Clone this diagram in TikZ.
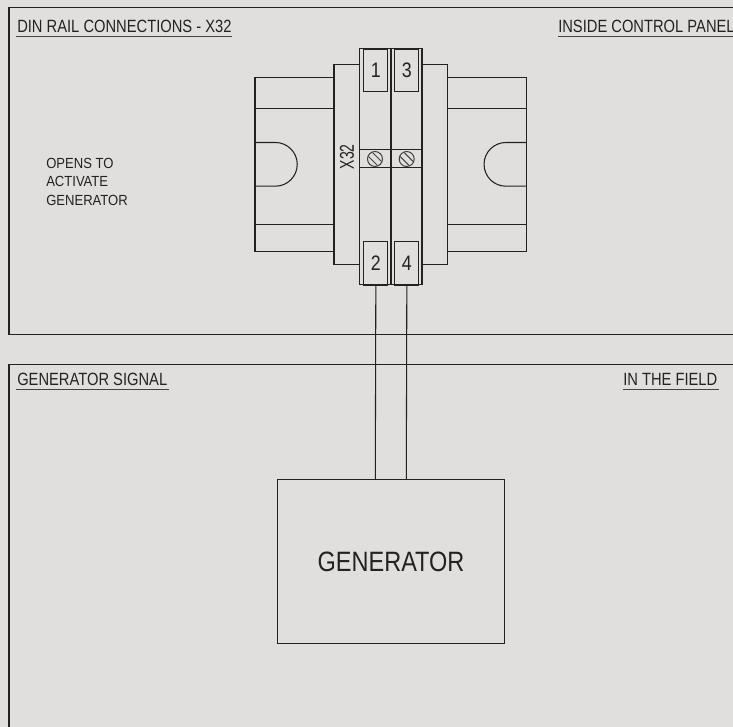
\documentclass[tikz,border=0pt]{standalone}
\usepackage{fontspec}
\setmainfont{Liberation Sans}
\newfontfamily\titlefont[FakeStretch=0.83]{Liberation Sans}
\newfontfamily\notefont[FakeStretch=0.89]{Liberation Sans}
\newfontfamily\digitfont[FakeStretch=0.85]{Liberation Sans}
\newfontfamily\tagfont[FakeStretch=0.7]{Liberation Sans}
\newfontfamily\genfont[FakeStretch=0.84]{Liberation Sans}
\definecolor{bgc}{HTML}{E0DFDD}
\definecolor{inkc}{HTML}{222222}
\usetikzlibrary{calc}
\tikzset{
  x=0.75pt,y=-0.75pt,
  ln/.style={draw=inkc,line width=0.8pt},
  thick ln/.style={draw=inkc,line width=1.2pt},
  thin ln/.style={draw=inkc!85,line width=0.75pt},
  title/.style={inkc,inner sep=0pt,anchor=base west,font=\titlefont\fontsize{13.3pt}{15pt}\selectfont},
  label/.style={inkc,inner sep=0pt,anchor=base west,font=\notefont\fontsize{11pt}{14.1pt}\selectfont,align=left},
  term/.style={ln,inner sep=0pt,minimum width=18pt,anchor=north west,text=inkc,font=\digitfont\fontsize{15.7pt}{16pt}\selectfont},
}
\newcommand{\uline}[3]{\draw[thin ln] (#1,#3)--(#2,#3);}
\newcommand{\screw}[2]{%
  \draw[thin ln] (#1,#2) circle[radius=7.5];
  \draw[thin ln] ($(#1,#2)+(-6.4,-2.4)$)--($(#1,#2)+(2.4,6.4)$);
  \draw[thin ln] ($(#1,#2)+(-2.4,-6.4)$)--($(#1,#2)+(6.4,2.4)$);}
\begin{document}
\begin{tikzpicture}
\useasboundingbox[fill=bgc] (0,0) rectangle (733,727);
% panels
\draw[ln] (740,7.4)--(9,7.4)--(9,334.4)--(740,334.4);
\draw[ln] (740,364.4)--(9,364.4)--(9,735);
% titles
\node[title] (t1) at (17,32.5) {DIN RAIL CONNECTIONS - X32};
\uline{16}{232}{36.6}
\node[title] (t2) at (558,32.5) {INSIDE CONTROL PANEL};
\uline{558}{733}{36.6}
\node[title] (t3) at (17,385.7) {GENERATOR SIGNAL};
\uline{16}{169}{389.5}
\node[title] (t4) at (623,385.7) {IN THE FIELD};
\uline{623}{719}{389.5}
\node[label] (note) at (46,205.7) {OPENS TO\\ACTIVATE\\GENERATOR};
% left rail
\draw[ln] (334,77.3)--(255,77.3)--(255,251.3)--(334,251.3);
\draw[ln] (255,108.9)--(334,108.9);
\draw[ln] (255,224.9)--(334,224.9);
\draw[ln] (255,142.5)--(275.4,142.5) arc[start angle=-90,end angle=90,radius=21.85]--(255,186.2);
% right rail
\draw[ln] (447.7,77.3)--(526.5,77.3)--(526.5,251.3)--(447.7,251.3);
\draw[ln] (447.7,108.9)--(526.5,108.9);
\draw[ln] (447.7,224.9)--(526.5,224.9);
\draw[ln] (526.5,142.5)--(505.9,142.5) arc[start angle=-90,end angle=-270,radius=21.85]--(526.5,186.2);
% base plate
\draw[ln] (359.3,64.3)--(334,64.3)--(334,264.2)--(359.3,264.2);
\draw[ln] (422.3,64.3)--(447.7,64.3)--(447.7,264.2)--(422.3,264.2);
% block
\draw[ln] (359.3,48.7) rectangle (422.3,284.3);
\draw[thick ln] (390.7,48.7)--(390.7,284.3);
\draw[thick ln] (422,48.7)--(422,284.3);
\draw[ln] (359.3,149.3)--(422.3,149.3);
\draw[ln] (359.3,167.7)--(422.3,167.7);
\screw{375}{159}
\screw{406.7}{159}
% terminals
\node[term,minimum height=31.5pt] (k1) at (363.3,49) {1};
\node[term,minimum height=31.5pt] (k3) at (394.3,49) {3};
\node[term,minimum height=32.5pt] (k2) at (363.3,241.3) {2};
\node[term,minimum height=32.5pt] (k4) at (394.3,241.3) {4};
\node[inkc,inner sep=0pt,rotate=90,font=\tagfont\fontsize{15pt}{16pt}\selectfont] (x32) at (347,156.7) {X32};
% generator
\node[ln,anchor=north west,minimum width=170.25pt,minimum height=123pt,inner sep=0pt,text=inkc,font=\genfont\fontsize{21pt}{24pt}\selectfont] (gen) at (277,479) {GENERATOR};
\coordinate (g1) at (375.3,479);
\coordinate (g2) at (406.3,479);
\draw[ln] (k2.south) -- (g1);
\draw[ln] (k4.south) -- (g2);
\end{tikzpicture}
\end{document}
